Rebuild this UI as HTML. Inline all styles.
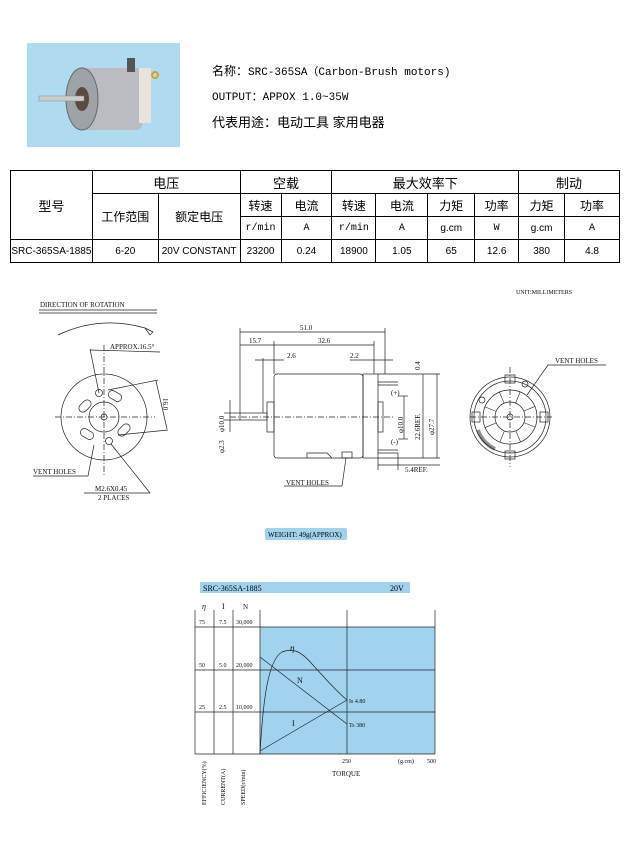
<!DOCTYPE html>
<html><head><meta charset="utf-8"><style>
body{margin:0;width:630px;height:850px;background:#fff;position:relative;overflow:hidden;font-family:"Liberation Serif","Noto Serif CJK SC",serif}
.t{position:absolute;font-size:12px;color:#000;white-space:nowrap}
table{position:absolute;left:10px;top:170px;width:610px;border-collapse:collapse;font-family:"Liberation Sans","Noto Sans CJK SC",sans-serif;font-size:12px}
td{border:1px solid #000;text-align:center;height:22px;padding:0}
.s{font-size:10px}
.m{font-family:"Liberation Mono",monospace;font-size:10px}
</style></head><body>
<div style="position:absolute;left:27px;top:43px;width:153px;height:104px;background:#aedbf0"></div>
<svg style="position:absolute;left:27px;top:43px" width="153" height="104">
<rect x="55" y="25" width="60" height="62" rx="6" fill="#b9bcc0"/>
<ellipse cx="55" cy="56" rx="16" ry="31" fill="#9ea3a8" stroke="#666"/>
<ellipse cx="55" cy="56" rx="7" ry="12" fill="#5a4a40"/>
<rect x="12" y="53" width="45" height="5" fill="#ccc" stroke="#888" stroke-width=".5"/>
<rect x="112" y="25" width="12" height="55" fill="#e8e4dc"/>
<circle cx="128" cy="32" r="3" fill="none" stroke="#d9a020" stroke-width="2"/>
<rect x="100" y="15" width="8" height="14" fill="#555"/>
</svg>
<div class="t" style="left:212px;top:62px;font-size:11px;font-family:'Liberation Mono','Noto Sans CJK SC',monospace"><span style="font-size:12px">名称：</span>SRC-365SA（Carbon-Brush motors)</div>
<div class="t" style="left:212px;top:88px;font-size:11px;font-family:'Liberation Mono','Noto Sans CJK SC',monospace">OUTPUT：APPOX 1.0~35W</div>
<div class="t" style="left:212px;top:112px;font-size:13px;font-family:'Liberation Sans','Noto Sans CJK SC',sans-serif">代表用途：电动工具 家用电器</div>
<table>
<colgroup><col style="width:82px"><col style="width:66px"><col style="width:82px"><col style="width:41px"><col style="width:51px"><col style="width:44px"><col style="width:52px"><col style="width:47px"><col style="width:44px"><col style="width:46px"><col style="width:55px"></colgroup>
<tr><td rowspan="3" style="font-size:13px">型号</td><td colspan="2" style="font-size:13px">电压</td><td colspan="2" style="font-size:13px">空载</td><td colspan="4" style="font-size:13px">最大效率下</td><td colspan="2" style="font-size:13px">制动</td></tr>
<tr><td rowspan="2">工作范围</td><td rowspan="2">额定电压</td><td>转速</td><td>电流</td><td>转速</td><td>电流</td><td>力矩</td><td>功率</td><td>力矩</td><td>功率</td></tr>
<tr><td class="m">r/min</td><td class="m">A</td><td class="m">r/min</td><td class="m">A</td><td class="s">g.cm</td><td class="m">W</td><td class="s">g.cm</td><td class="m">A</td></tr>
<tr><td class="s">SRC-365SA-1885</td><td class="s">6-20</td><td class="s">20V CONSTANT</td><td class="s">23200</td><td class="s">0.24</td><td class="s">18900</td><td class="s">1.05</td><td class="s">65</td><td class="s">12.6</td><td class="s">380</td><td class="s">4.8</td></tr>
</table>

<svg style="position:absolute;left:0;top:0" width="630" height="850" font-family="Liberation Serif,serif" font-size="7">
<g stroke="#222" stroke-width="0.7" fill="none">
<line x1="39" y1="310" x2="157" y2="310"/><line x1="39" y1="313" x2="157" y2="313"/>
<path d="M58 335 Q100 315 145 328"/><path d="M145 328 l8 4 -3 3z"/>
<circle cx="104" cy="417" r="43"/><circle cx="104" cy="417" r="15"/><circle cx="104" cy="417" r="3"/>
<circle cx="99" cy="393" r="3.5"/><circle cx="109" cy="441" r="3.5"/>
<rect x="108" y="392" width="14" height="8" rx="4" transform="rotate(30 115 396)"/>
<rect x="117" y="426" width="14" height="8" rx="4" transform="rotate(-45 124 430)"/>
<rect x="80" y="430" width="14" height="8" rx="4" transform="rotate(30 87 434)"/>
<rect x="78" y="402" width="14" height="8" rx="4" transform="rotate(-45 85 406)"/>
<line x1="55" y1="417" x2="155" y2="417" stroke-dasharray="6 2 1 2"/>
<line x1="104" y1="345" x2="104" y2="475" stroke-dasharray="6 2 1 2"/>
<line x1="90" y1="349" x2="99" y2="393"/><line x1="90" y1="350" x2="160" y2="352"/>
<line x1="156" y1="381" x2="167" y2="429"/><line x1="108" y1="390" x2="158" y2="380"/><line x1="118" y1="435" x2="168" y2="430"/>
<line x1="33" y1="476" x2="88" y2="476"/><line x1="88" y1="476" x2="94" y2="445"/>
<line x1="84" y1="493" x2="150" y2="493"/><line x1="150" y1="493" x2="111" y2="444"/>
<rect x="274" y="374" width="89" height="84" rx="3"/>
<rect x="363" y="374" width="15" height="84"/>
<rect x="267" y="402" width="7" height="30"/>
<rect x="240" y="413" width="27" height="7"/>
<rect x="378" y="402" width="5" height="30"/>
<line x1="378" y1="382" x2="398" y2="382"/><line x1="378" y1="385" x2="398" y2="385"/>
<line x1="378" y1="450" x2="398" y2="450"/><line x1="378" y1="453" x2="398" y2="453"/>
<line x1="230" y1="417" x2="395" y2="417" stroke-dasharray="6 2 1 2"/>
<path d="M307 458 v-5 h20 l5 5"/><rect x="342" y="452" width="10" height="6"/>
<line x1="240" y1="332" x2="385" y2="332"/><line x1="240" y1="328" x2="240" y2="413"/><line x1="385" y1="328" x2="385" y2="374"/>
<line x1="240" y1="345" x2="374" y2="345"/><line x1="274" y1="341" x2="274" y2="374"/><line x1="374" y1="341" x2="374" y2="374"/>
<line x1="255" y1="360" x2="284" y2="360"/><line x1="350" y1="360" x2="393" y2="360"/><line x1="263" y1="358" x2="263" y2="413"/>
<line x1="378" y1="374" x2="440" y2="374"/><line x1="378" y1="458" x2="440" y2="458"/>
<line x1="423" y1="374" x2="423" y2="458"/><line x1="437" y1="374" x2="437" y2="458"/>
<line x1="398" y1="396" x2="408" y2="396"/><line x1="398" y1="439" x2="408" y2="439"/><line x1="404" y1="396" x2="404" y2="439"/>
<line x1="378" y1="465" x2="440" y2="465"/><line x1="378" y1="458" x2="378" y2="470"/><line x1="398" y1="453" x2="398" y2="470"/>
<line x1="230" y1="400" x2="230" y2="432"/><line x1="224" y1="413" x2="240" y2="413"/><line x1="224" y1="420" x2="240" y2="420"/>
<line x1="284" y1="486" x2="342" y2="486"/><line x1="342" y1="486" x2="346" y2="458"/>
<circle cx="510" cy="417" r="40"/><circle cx="510" cy="417" r="36"/><circle cx="510" cy="417" r="27"/><circle cx="510" cy="417" r="15"/><circle cx="510" cy="417" r="3"/>
<g stroke-width="0.6">
<line x1="525" y1="417" x2="537" y2="417" transform="rotate(22 510 417)"/><line x1="525" y1="417" x2="537" y2="417" transform="rotate(67 510 417)"/>
<line x1="525" y1="417" x2="537" y2="417" transform="rotate(112 510 417)"/><line x1="525" y1="417" x2="537" y2="417" transform="rotate(157 510 417)"/>
<line x1="525" y1="417" x2="537" y2="417" transform="rotate(202 510 417)"/><line x1="525" y1="417" x2="537" y2="417" transform="rotate(247 510 417)"/>
<line x1="525" y1="417" x2="537" y2="417" transform="rotate(292 510 417)"/><line x1="525" y1="417" x2="537" y2="417" transform="rotate(337 510 417)"/>
</g>
<circle cx="525" cy="384" r="3"/><circle cx="482" cy="400" r="3"/>
<path d="M478 430 A33 33 0 0 0 495 449" stroke-width="4" stroke="#222" opacity=".5"/>
<rect x="505" y="375" width="10" height="8"/><rect x="505" y="451" width="10" height="8"/><rect x="472" y="412" width="8" height="10"/><rect x="540" y="412" width="8" height="10"/>
<line x1="470" y1="417" x2="552" y2="417" stroke-dasharray="6 2 1 2"/><line x1="510" y1="367" x2="510" y2="467" stroke-dasharray="6 2 1 2"/>
<line x1="548" y1="365" x2="606" y2="365"/><line x1="548" y1="365" x2="527" y2="395"/>
</g>
<g fill="#111">
<text x="40" y="307">DIRECTION OF ROTATION</text>
<text x="110" y="349">APPROX.16.5°</text>
<text x="163" y="398" transform="rotate(90 163 398)">16.0</text>
<text x="33" y="474">VENT HOLES</text>
<text x="95" y="491">M2.6X0.45</text><text x="98" y="500">2 PLACES</text>
<text x="300" y="330">51.0</text><text x="249" y="343">15.7</text><text x="318" y="343">32.6</text>
<text x="287" y="358">2.6</text><text x="350" y="358">2.2</text>
<text x="391" y="395">(+)</text><text x="391" y="444">(-)</text>
<text x="420" y="370" transform="rotate(-90 420 370)">0.4</text>
<text x="420" y="440" transform="rotate(-90 420 440)">22.6REF.</text>
<text x="434" y="435" transform="rotate(-90 434 435)">φ27.7</text>
<text x="403" y="433" transform="rotate(-90 403 433)">φ10.0</text>
<text x="224" y="432" transform="rotate(-90 224 432)">φ10.0</text>
<text x="224" y="453" transform="rotate(-90 224 453)">φ2.3</text>
<text x="405" y="472">5.4REF.</text>
<text x="286" y="485">VENT HOLES</text>
<text x="555" y="363">VENT HOLES</text>
<text x="516" y="294" font-size="6">UNIT:MILLIMETERS</text>
</g>
<rect x="265" y="528" width="82" height="12" rx="2" fill="#9fd3ee"/>
<text x="268" y="537" font-size="7">WEIGHT: 49g(APPROX)</text>
<rect x="200" y="582" width="210" height="11" fill="#9fd3ee"/>
<text x="203" y="591" font-size="8">SRC-365SA-1885</text><text x="390" y="591" font-size="8">20V</text>
<rect x="260" y="627" width="175" height="127" fill="#9fd3ee"/>
<g stroke="#222" stroke-width="0.7" fill="none">
<line x1="195" y1="610" x2="195" y2="754"/><line x1="214" y1="610" x2="214" y2="754"/><line x1="233" y1="610" x2="233" y2="754"/>
<line x1="260" y1="610" x2="260" y2="754"/><line x1="347" y1="610" x2="347" y2="754"/><line x1="435" y1="610" x2="435" y2="754"/>
<line x1="195" y1="627" x2="435" y2="627"/><line x1="195" y1="670" x2="435" y2="670"/><line x1="195" y1="712" x2="435" y2="712"/><line x1="195" y1="754" x2="435" y2="754"/>
<line x1="260" y1="657" x2="347" y2="724"/>
<line x1="260" y1="751" x2="347" y2="700"/>
<path d="M260 754 C263 700 268 660 282 652 C292 648 300 650 312 664 C325 678 335 690 347 700"/>
</g>
<g font-size="6" fill="#111">
<text x="202" y="609" font-size="8" font-style="italic">η</text><text x="222" y="609" font-size="8">I</text><text x="243" y="609" font-size="7">N</text>
<text x="199" y="624">75</text><text x="219" y="624">7.5</text><text x="236" y="624">30,000</text>
<text x="199" y="667">50</text><text x="219" y="667">5.0</text><text x="236" y="667">20,000</text>
<text x="199" y="709">25</text><text x="219" y="709">2.5</text><text x="236" y="709">10,000</text>
<text x="290" y="651" font-size="9" font-style="italic">η</text><text x="297" y="683" font-size="8">N</text><text x="292" y="726" font-size="8">I</text>
<text x="349" y="703">Is 4.80</text><text x="349" y="727">Ts 380</text>
<text x="342" y="763">250</text><text x="398" y="763">(g.cm)</text><text x="427" y="763">500</text>
<text x="332" y="776" font-size="7">TORQUE</text>
<text x="206" y="805" transform="rotate(-90 206 805)">EFFICIENCY(%)</text>
<text x="225" y="805" transform="rotate(-90 225 805)">CURRENT(A)</text>
<text x="245" y="805" transform="rotate(-90 245 805)">SPEED(r/min)</text>
</g>
</svg>
</body></html>
